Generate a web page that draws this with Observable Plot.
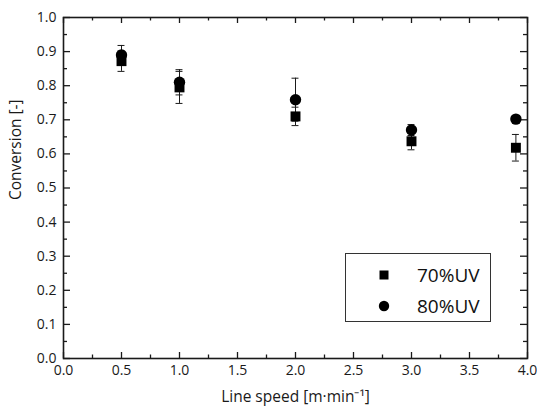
<!DOCTYPE html>
<html><head><meta charset="utf-8">
<script src="https://cdn.jsdelivr.net/npm/d3@7"></script>
<script src="https://cdn.jsdelivr.net/npm/@observablehq/plot@0.6"></script>
<style>
body{margin:0;background:#fff}
#wrap{position:relative;width:537px;height:413px;font-family:"Open Sans",sans-serif}
#legend{position:absolute;left:345px;top:253px;width:146px;height:69px;border:1px solid #333;background:#fff;box-sizing:border-box}
#legend .row{position:absolute;left:0;height:30px}
#legend svg{position:absolute;left:28px}
#legend span{position:absolute;left:71px;font-size:19px;color:#111;line-height:30px;white-space:nowrap}
</style>
</head><body><div id="wrap"></div>
<script>
const speeds = [0.5, 1.0, 2.0, 3.0, 3.9];
const uv70 = [0.872, 0.795, 0.710, 0.637, 0.618];
const err70 = [0.030, 0.047, 0.027, 0.025, 0.039];
const uv80 = [0.890, 0.810, 0.759, 0.670, 0.702];
const err80 = [0.028, 0.037, 0.063, 0.016, 0.008];
const seriesNames = ["70%UV", "80%UV"];
const xTitle = "Line speed [m·min⁻¹]";
const yTitle = "Conversion [-]";
const xMajor = [0, 0.5, 1.0, 1.5, 2.0, 2.5, 3.0, 3.5, 4.0];
const xMinor = [0.25, 0.75, 1.25, 1.75, 2.25, 2.75, 3.25, 3.75];
const yMajor = [0, 0.1, 0.2, 0.3, 0.4, 0.5, 0.6, 0.7, 0.8, 0.9, 1.0];
const yMinor = [0.05, 0.15, 0.25, 0.35, 0.45, 0.55, 0.65, 0.75, 0.85, 0.95];

const rows70 = speeds.map((s, i) => ({x: s, y: uv70[i], lo: uv70[i] - err70[i], hi: uv70[i] + err70[i], series: seriesNames[0]}));
const rows80 = speeds.map((s, i) => ({x: s, y: uv80[i], lo: uv80[i] - err80[i], hi: uv80[i] + err80[i], series: seriesNames[1]}));
const rows = rows70.concat(rows80);

const W = 537, H = 413, mL = 63, mR = 10, mT = 17, mB = 55;
const pw = W - mL - mR, ph = H - mT - mB;
const capHalf = 0.03;
const ink = "#1a1a1a";

const chart = Plot.plot({
  width: W, height: H,
  marginLeft: mL, marginRight: mR, marginTop: mT, marginBottom: mB,
  style: {fontFamily: '"Open Sans", sans-serif', fontSize: "14px", background: "#fff", color: ink},
  x: {domain: [0, 4]},
  y: {domain: [0, 1]},
  marks: [
    Plot.axisX(xMajor, {anchor: "bottom", tickSize: 0, tickPadding: 7, fontSize: 14, tickFormat: d3.format(".1f"), label: null}),
    Plot.axisY(yMajor, {anchor: "left", tickSize: 0, tickPadding: 7, fontSize: 14, tickFormat: d3.format(".1f"), label: null}),
    Plot.text([xTitle], {frameAnchor: "bottom", dy: 43, fontSize: 15.5, fill: ink}),
    Plot.text([yTitle], {frameAnchor: "left", dx: -47, dy: 12, rotate: -90, fontSize: 15.5, fill: ink}),
    // inward ticks, bottom & top
    Plot.ruleX(xMajor, {x: d => d, insetTop: ph - 6, stroke: ink, strokeWidth: 1.3}),
    Plot.ruleX(xMinor, {x: d => d, insetTop: ph - 3.5, stroke: ink, strokeWidth: 1.3}),
    Plot.ruleX(xMajor, {x: d => d, insetBottom: ph - 6, stroke: ink, strokeWidth: 1.3}),
    Plot.ruleX(xMinor, {x: d => d, insetBottom: ph - 3.5, stroke: ink, strokeWidth: 1.3}),
    // inward ticks, left & right
    Plot.ruleY(yMajor, {y: d => d, insetRight: pw - 7, stroke: ink, strokeWidth: 1.3}),
    Plot.ruleY(yMinor, {y: d => d, insetRight: pw - 4, stroke: ink, strokeWidth: 1.3}),
    Plot.ruleY(yMajor, {y: d => d, insetLeft: pw - 7, stroke: ink, strokeWidth: 1.3}),
    Plot.ruleY(yMinor, {y: d => d, insetLeft: pw - 4, stroke: ink, strokeWidth: 1.3}),
    Plot.frame({stroke: ink, strokeWidth: 1.6}),
    // error bars
    Plot.ruleX(rows, {x: "x", y1: "lo", y2: "hi", stroke: ink, strokeWidth: 1}),
    Plot.ruleY(rows, {y: "lo", x1: d => d.x - capHalf, x2: d => d.x + capHalf, stroke: ink, strokeWidth: 1}),
    Plot.ruleY(rows, {y: "hi", x1: d => d.x - capHalf, x2: d => d.x + capHalf, stroke: ink, strokeWidth: 1}),
    Plot.dot(rows70, {x: "x", y: "y", symbol: "square", r: 5.6, fill: "#000", stroke: "none"}),
    Plot.dot(rows80, {x: "x", y: "y", symbol: "circle", r: 5.7, fill: "#000", stroke: "none"})
  ]
});

const wrap = document.getElementById("wrap");
wrap.appendChild(chart);

// legend
const legend = document.createElement("div");
legend.id = "legend";
const syms = ["square", "circle"];
seriesNames.forEach((name, i) => {
  const row = document.createElement("div");
  row.className = "row";
  row.style.top = (6 + i * 31) + "px";
  row.style.width = "100%";
  const s = d3.create("svg").attr("width", 20).attr("height", 30);
  if (syms[i] === "square") s.append("rect").attr("x", 5.5).attr("y", 10.5).attr("width", 9).attr("height", 9).attr("fill", "#000");
  else s.append("circle").attr("cx", 10).attr("cy", 15).attr("r", 5.2).attr("fill", "#000");
  row.appendChild(s.node());
  const t = document.createElement("span");
  t.textContent = name;
  row.appendChild(t);
  legend.appendChild(row);
});
wrap.appendChild(legend);
</script>
</body></html>
